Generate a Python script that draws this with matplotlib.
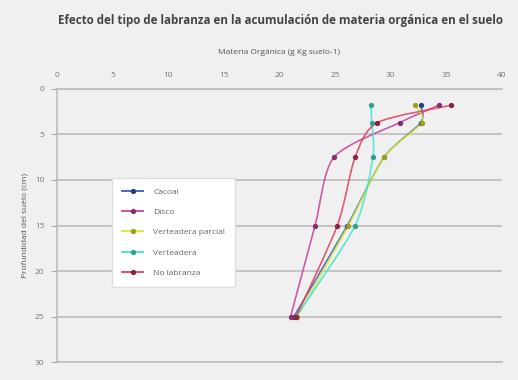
import matplotlib
matplotlib.use("Agg")
import matplotlib.pyplot as plt
from matplotlib.path import Path
from matplotlib.patches import PathPatch
from matplotlib.lines import Line2D

plt.rcParams['font.family'] = ['Open Sans', 'DejaVu Sans']

depths = [1.8, 3.7, 7.5, 15, 25]
cacoal = [32.7, 32.7, 29.4, 26.1, 21.3]
disco = [34.3, 30.8, 24.9, 23.2, 21.0]
vert_parcial = [32.2, 32.8, 29.4, 26.2, 21.6]
verteadera = [28.2, 28.3, 28.4, 26.8, 21.5]
no_labranza = [35.4, 28.8, 26.8, 25.2, 21.5]

series_names = ["Cacoal", "Disco", "Verteadera parcial", "Verteadera", "No labranza"]
series_vals = [cacoal, disco, vert_parcial, verteadera, no_labranza]
colors = ["#3a5cc0", "#c8409a", "#d6e830", "#3fe6c8", "#e0405c"]
marker_colors = ["#2a3f80", "#8a2a70", "#a0a020", "#30a090", "#902040"]

xticks = [0, 5, 10, 15, 20, 25, 30, 35, 40]
yticks = [0, 5, 10, 15, 20, 25, 30]


def smooth_path(xs, ys, k=0.13):
    pts = list(zip(xs, ys))
    verts = [pts[0]]
    codes = [Path.MOVETO]
    n = len(pts)
    for i in range(n - 1):
        p0 = pts[i - 1] if i > 0 else pts[i]
        p1 = pts[i]
        p2 = pts[i + 1]
        p3 = pts[i + 2] if i + 2 < n else pts[i + 1]
        c1 = (p1[0] + (p2[0] - p0[0]) * k, p1[1] + (p2[1] - p0[1]) * k)
        c2 = (p2[0] - (p3[0] - p1[0]) * k, p2[1] - (p3[1] - p1[1]) * k)
        verts += [c1, c2, p2]
        codes += [Path.CURVE4] * 3
    return Path(verts, codes)


fig = plt.figure(figsize=(5.18, 3.80), dpi=100, facecolor="#f0f0f0")
ax = fig.add_axes([0.110, 0.047, 0.859, 0.719])
ax.set_facecolor("#f0f0f0")

handles = []
for name, vals, c, mc in zip(series_names, series_vals, colors, marker_colors):
    patch = PathPatch(smooth_path(vals, depths), facecolor='none', edgecolor=c,
                      lw=1.2, alpha=0.85, zorder=3)
    ax.add_patch(patch)
    ax.plot(vals, depths, ls='none', marker='o', markersize=2.8,
            markerfacecolor=mc, markeredgecolor=mc, zorder=4)
    handles.append(Line2D([], [], color=c, lw=1.3, marker='o', markersize=2.8,
                          markerfacecolor=mc, markeredgecolor=mc, label=name))

ax.set_xlim(0, 40)
ax.set_ylim(30, 0)
ax.xaxis.tick_top()
ax.xaxis.set_label_position('top')
ax.set_xticks(xticks)
ax.set_yticks(yticks)
ax.tick_params(axis='x', length=0, labelsize=6, labelcolor="#777777", pad=7)
ax.tick_params(axis='y', length=4, color="#aaaaaa", labelsize=6, labelcolor="#777777", pad=5)
ax.set_xlabel("Materia Orgánica (g Kg suelo-1)", fontsize=6, color="#555555", labelpad=13)
ax.set_ylabel("Profundidad del suelo (cm)", fontsize=6, color="#555555", labelpad=5)

ax.yaxis.grid(True, color="#bdbdbd", lw=1.2)
ax.xaxis.grid(False)
ax.spines["right"].set_visible(False)
for s in ["left", "top", "bottom"]:
    ax.spines[s].set_color("#bdbdbd")
    ax.spines[s].set_linewidth(1.2)

leg = ax.legend(handles=handles, loc="upper left", bbox_to_anchor=(0.115, 0.69), fontsize=6,
                frameon=True, fancybox=True, framealpha=1, facecolor="white",
                edgecolor="#dddddd", labelcolor="#666666", handlelength=2.5,
                borderpad=1.2, labelspacing=1.5, handletextpad=1.2)

fig.text(0.112, 0.945, "Efecto del tipo de labranza en la acumulación de materia orgánica en el suelo",
         fontsize=8.4, fontweight='bold', color="#444444", ha='left', va='center')

fig.savefig("out.png", dpi=100, facecolor=fig.get_facecolor())
